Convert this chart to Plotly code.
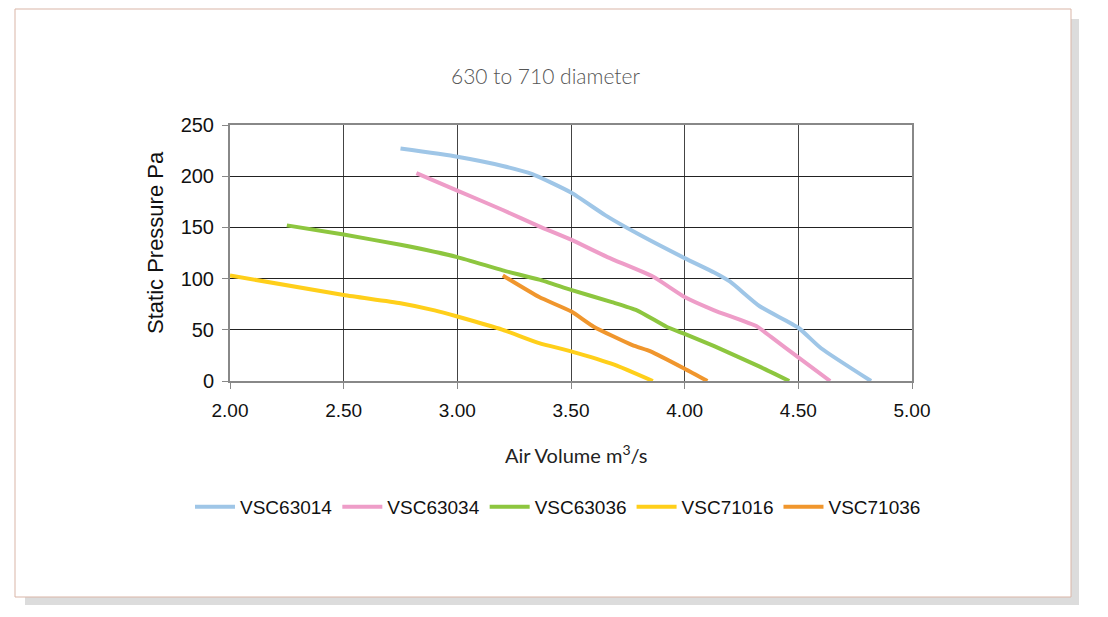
import plotly.graph_objects as go

W, H = 1108, 617

series_names = ["VSC63014", "VSC63034", "VSC63036", "VSC71016", "VSC71036"]
series_colors = ["#9FC6E7", "#EE9DC8", "#8DC63F", "#FFCF1A", "#F0962D"]

vsc63014_x = [2.75, 3.0, 3.2, 3.33, 3.5, 3.65, 3.8, 4.0, 4.13, 4.2, 4.33, 4.5, 4.6, 4.82]
vsc63014_y = [227, 219, 210, 202, 184, 162, 143, 120, 106, 97, 73, 52, 32, 0]

vsc63034_x = [2.82, 3.0, 3.2, 3.36, 3.5, 3.66, 3.86, 4.0, 4.13, 4.32, 4.38, 4.5, 4.64]
vsc63034_y = [203, 186, 167, 151, 138, 121, 102, 82, 69, 53, 43, 23, 0]

vsc63036_x = [2.25, 2.5, 2.75, 3.0, 3.2, 3.36, 3.5, 3.68, 3.79, 3.92, 4.0, 4.13, 4.33, 4.46]
vsc63036_y = [152, 143, 133, 121, 108, 99, 89, 77, 69, 53, 46, 34, 14, 0]

vsc71016_x = [2.0, 2.5, 2.75, 2.9, 3.0, 3.2, 3.36, 3.5, 3.69, 3.86]
vsc71016_y = [103, 84, 76, 69, 63, 50, 37, 29, 16, 0]

vsc71036_x = [3.2, 3.36, 3.5, 3.6, 3.77, 3.85, 4.0, 4.1]
vsc71036_y = [103, 82, 68, 53, 35, 29, 12, 0]

xs = [vsc63014_x, vsc63034_x, vsc63036_x, vsc71016_x, vsc71036_x]
ys = [vsc63014_y, vsc63034_y, vsc63036_y, vsc71016_y, vsc71036_y]

x_ticks = [2.0, 2.5, 3.0, 3.5, 4.0, 4.5, 5.0]
y_ticks = [0, 50, 100, 150, 200, 250]

fig = go.Figure()
for name, color, x, y in zip(series_names, series_colors, xs, ys):
    fig.add_trace(go.Scatter(x=x, y=y, name=name, mode="lines",
                             line=dict(color=color, width=4, shape="spline", smoothing=0.5)))

def px_x(p):
    return p / W

def px_y(p):
    return 1 - p / H

# plot area in pixels
L, R, T, B = 230, 912, 125, 381

fig.update_layout(
    width=W, height=H,
    margin=dict(l=0, r=0, t=0, b=0, autoexpand=False),
    paper_bgcolor="white",
    plot_bgcolor="white",
    showlegend=True,
    legend=dict(orientation="h", x=px_x(558), xanchor="center", y=px_y(507), yanchor="middle",
                font=dict(family="Liberation Sans, Arial", size=19, color="#111"),
                bgcolor="rgba(0,0,0,0)", itemwidth=40),
    xaxis=dict(domain=[px_x(L), px_x(R)], range=[2, 5], tickvals=x_ticks,
               ticktext=[f"{v:.2f}" for v in x_ticks],
               showgrid=True, gridcolor="#444", gridwidth=1,
               showline=True, linecolor="#888", linewidth=2, mirror=True,
               ticks="outside", ticklen=6, tickcolor="#888", tickwidth=1,
               ticklabelstandoff=5,
               tickfont=dict(family="Liberation Sans, Arial", size=19, color="#111"),
               zeroline=False, automargin=False),
    yaxis=dict(domain=[px_y(B), px_y(T)], range=[0, 250], tickvals=y_ticks,
               showgrid=True, gridcolor="#222", gridwidth=1,
               showline=True, linecolor="#888", linewidth=2, mirror=True,
               ticks="outside", ticklen=6, tickcolor="#888", tickwidth=1,
               ticklabelstandoff=4,
               tickfont=dict(family="Liberation Sans, Arial", size=20, color="#111"),
               zeroline=False, automargin=False),
    shapes=[
        dict(type="rect", xref="paper", yref="paper", layer="below",
             x0=px_x(25), x1=px_x(1079), y0=px_y(605), y1=px_y(19),
             fillcolor="#DCDCDC", line=dict(width=0)),
        dict(type="rect", xref="paper", yref="paper", layer="below",
             x0=px_x(15), x1=px_x(1071), y0=px_y(597), y1=px_y(9),
             fillcolor="white", line=dict(color="#D9B5A7", width=1)),
    ],
    annotations=[
        dict(text="630 to 710 diameter", xref="paper", yref="paper",
             x=px_x(545), y=px_y(75), showarrow=False, xanchor="center", yanchor="middle",
             font=dict(family="Lato", size=21, color="#555", weight=300)),
        dict(text="Air Volume m<sup>3</sup>/s", xref="paper", yref="paper",
             x=px_x(576), y=px_y(454), showarrow=False, xanchor="center", yanchor="middle",
             font=dict(family="Lato", size=20, color="#222")),
        dict(text="Static Pressure Pa", xref="paper", yref="paper", textangle=-90,
             x=px_x(155), y=px_y(243), showarrow=False, xanchor="center", yanchor="middle",
             font=dict(family="Liberation Sans, Arial", size=22, color="#111")),
    ],
)

fig.write_html("out.html")
